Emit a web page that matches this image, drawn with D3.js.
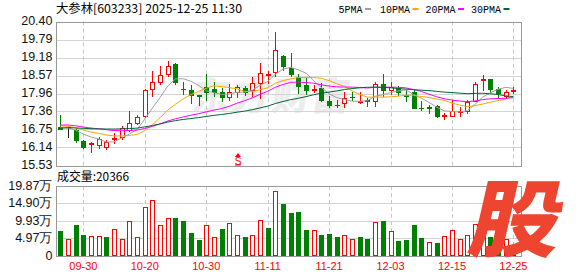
<!DOCTYPE html>
<html><head><meta charset="utf-8">
<script src="https://cdn.jsdelivr.net/npm/d3@7"></script>
<style>
html,body{margin:0;padding:0;background:#fff;}
svg{display:block;}
</style></head>
<body>
<svg id="c" width="578" height="276"></svg>
<script>
// ---- data ----
const dates = ["09-25","09-26","09-29","09-30","10-09","10-10","10-13","10-14","10-15","10-16","10-17","10-20","10-21","10-22","10-23","10-24","10-27","10-28","10-29","10-30","10-31","11-03","11-04","11-05","11-06","11-07","11-10","11-11","11-12","11-13","11-14","11-17","11-18","11-19","11-20","11-21","11-24","11-25","11-26","11-27","11-28","12-01","12-02","12-03","12-04","12-05","12-08","12-09","12-10","12-11","12-12","12-15","12-16","12-17","12-18","12-19","12-22","12-23","12-24","12-25"];
const open  = [16.82,16.83,16.74,16.37,16.28,16.23,16.17,16.44,16.49,16.74,16.97,17.21,18.12,18.36,18.63,18.96,18.13,18.09,17.90,18.18,18.12,18.03,17.84,18.00,18.15,18.07,18.32,18.62,18.68,19.24,18.82,18.52,18.26,18.12,18.15,17.72,17.59,17.64,17.85,17.71,17.74,17.70,18.29,18.07,18.15,17.91,18.03,17.48,17.50,17.55,17.23,17.22,17.36,17.38,17.72,18.44,18.45,18.12,17.89,18.07];
const high  = [17.25,16.87,16.80,16.38,16.34,16.51,16.40,16.63,16.87,17.39,17.25,18.12,18.71,18.90,19.05,18.99,18.37,18.26,17.92,18.63,18.37,18.15,18.29,18.26,18.23,18.52,19.00,18.71,20.03,19.28,19.33,18.63,18.52,18.26,18.32,17.89,17.75,18.00,18.03,18.00,17.81,18.37,18.63,18.37,18.23,18.07,18.09,17.70,17.58,17.58,17.32,17.75,17.51,17.75,18.34,18.60,18.45,18.20,18.09,18.17];
const low   = [16.77,16.48,16.34,16.12,15.99,16.12,16.09,16.29,16.44,16.68,16.94,17.17,17.89,18.28,18.54,18.29,17.96,17.66,17.58,17.75,17.87,17.70,17.73,17.84,17.92,17.87,17.81,18.32,18.54,18.77,18.54,17.98,17.96,18.00,17.70,17.51,17.51,17.51,17.75,17.66,17.55,17.55,17.89,17.96,17.92,17.70,17.47,17.42,17.32,17.17,17.11,17.19,17.21,17.30,17.70,18.07,18.03,17.83,17.81,17.98];
const close = [16.78,16.83,16.40,16.16,16.30,16.43,16.31,16.47,16.80,16.97,17.17,18.09,18.35,18.59,18.90,18.37,18.11,17.93,17.89,18.00,18.01,17.84,18.00,18.18,18.03,18.32,18.66,18.64,19.44,18.88,18.63,18.23,18.09,18.13,17.75,17.58,17.56,17.81,17.83,17.72,17.70,18.29,18.07,18.20,18.00,17.89,17.49,17.46,17.48,17.21,17.25,17.38,17.39,17.68,18.29,18.46,18.11,17.98,18.03,18.10];
// volume in 万 (10k shares)
const volume = [7.05,4.67,8.77,5.80,5.45,5.45,5.16,7.54,4.67,9.83,5.25,13.76,15.85,8.69,10.60,10.77,9.83,6.48,4.39,8.69,5.25,7.54,9.17,6.00,5.16,5.73,10.03,7.83,18.35,14.71,12.20,12.40,7.25,7.16,5.82,6.10,5.16,6.00,4.60,5.16,4.60,9.55,9.83,6.97,4.20,4.39,8.69,4.87,3.73,3.52,5.50,7.16,4.60,6.00,9.00,7.50,5.20,4.40,4.70,2.0366];
// closes of the 29 sessions before the first visible one (for the moving averages)
const priorClose = [16.55,16.48,16.62,16.70,16.58,16.45,16.52,16.60,16.66,16.71,16.85,16.92,17.05,16.98,16.88,16.95,17.02,16.90,16.86,16.89,16.95,16.98,16.90,16.92,16.90,16.86,16.78,16.83,16.80];
const priceTicks = [15.53,16.14,16.75,17.36,17.96,18.57,19.18,19.79,20.40];
const priceTickLabels = ["15.53","16.14","16.75","17.36","17.96","18.57","19.18","19.79","20.40"];
const volTicks = [0,4.97,9.93,14.90,19.87];
const volTickLabels = ["0","4.97万","9.93万","14.90万","19.87万"];
const xTickLabels = ["09-30","10-20","10-30","11-11","11-21","12-03","12-15","12-25"];
const maPeriods = [5,10,20,30];
const maNames = ["5PMA","10PMA","20PMA","30PMA"];
const maColors = ["#a0a0a0","#ffa500","#ff00ff","#006633"];
const title = "大参林[603233] 2025-12-25 11:30";
const volTitle = "成交量:20366";

// ---- layout ----
const svg = d3.select("#c");
const L = 56, R = 522;
const pTop = 21.5, pBot = 165.5;
const vTop = 186, vBot = 255.5;
const RED = "#ff0000", GREEN = "#008000";

const x = d3.scalePoint().domain(dates).range([60.3, 513.4]);
const y = d3.scaleLinear().domain([15.53, 20.40]).range([pBot, pTop]);
const yv = d3.scaleLinear().domain([0, 19.87]).range([vBot, vTop]);

const px = d => Math.round(x(d));

// watermark
svg.append("text").attr("x", 272).attr("y", 110).attr("text-anchor","middle")
  .attr("font-family","Noto Sans CJK SC").attr("font-weight",900).attr("font-size",38)
  .attr("fill","#000").attr("opacity",0.07).attr("letter-spacing",2)
  .attr("transform","skewX(-8)").attr("transform-origin","272 100")
  .text("东方财富");

// grids
function hgrid(ticks, sc) {
  svg.append("g").selectAll("line").data(ticks).join("line")
    .attr("x1", L).attr("x2", R)
    .attr("y1", d => Math.round(sc(d)) + 0.5).attr("y2", d => Math.round(sc(d)) + 0.5)
    .attr("stroke", "#d4d4d4").attr("stroke-width", 1);
}
hgrid(priceTicks, y);
hgrid(volTicks, yv);
const vgx = xTickLabels.map(l => px(l) + 0.5);
[[pTop, pBot], [vTop, vBot]].forEach(([a, b]) => {
  svg.append("g").selectAll("line").data(vgx).join("line")
    .attr("x1", d => d).attr("x2", d => d).attr("y1", a).attr("y2", b)
    .attr("stroke", "#c8c8c8").attr("stroke-dasharray", "4,3");
});
// panel frames
svg.append("rect").attr("x", L + 0.5).attr("y", Math.round(pTop) + 0.5)
  .attr("width", R - L - 1).attr("height", Math.round(pBot) - Math.round(pTop))
  .attr("fill", "none").attr("stroke", "#999");
svg.append("rect").attr("x", L + 0.5).attr("y", Math.round(vTop) + 0.5)
  .attr("width", R - L - 1).attr("height", Math.round(vBot) - Math.round(vTop))
  .attr("fill", "none").attr("stroke", "#999");

// axis labels
svg.append("g").selectAll("text").data(priceTicks).join("text")
  .attr("x", 52.5).attr("y", d => y(d) + 3.5).attr("text-anchor", "end")
  .attr("font-family", "Liberation Sans, Arial").attr("font-size", 12.5).attr("fill", "#111")
  .text((d, i) => priceTickLabels[i]);
svg.append("g").selectAll("text").data(volTicks).join("text")
  .attr("x", 52.5).attr("y", d => yv(d) + 4).attr("text-anchor", "end")
  .attr("font-family", "Liberation Sans, Arial").attr("font-size", 12.5).attr("fill", "#111")
  .text((d, i) => volTickLabels[i]);
svg.append("g").selectAll("text").data(xTickLabels).join("text")
  .attr("x", d => x(d)).attr("y", 270).attr("text-anchor", "middle")
  .attr("font-family", "Liberation Sans, Arial").attr("font-size", 11).attr("fill", RED)
  .text(d => d);

// titles
svg.append("text").attr("x", 56).attr("y", 13).attr("font-family", "Noto Sans CJK SC")
  .attr("font-size", 12).attr("fill", "#000").attr("textLength", 186).attr("lengthAdjust","spacingAndGlyphs").text(title);
svg.append("text").attr("x", 57).attr("y", 181).attr("font-family", "Noto Sans CJK SC")
  .attr("font-size", 12).attr("fill", "#000").attr("textLength", 72).attr("lengthAdjust","spacingAndGlyphs").text(volTitle);

// legend
const legX = [338.5, 380, 425.5, 471];
const legW = [24, 30, 30, 30];
maNames.forEach((n, i) => {
  svg.append("text").attr("x", legX[i]).attr("y", 12.5)
    .attr("font-family", "Liberation Mono, monospace").attr("font-size", 11)
    .attr("textLength", legW[i]).attr("lengthAdjust","spacingAndGlyphs")
    .attr("fill", "#000").text(n);
  svg.append("rect").attr("x", legX[i] + legW[i] + 2.5).attr("y", 8)
    .attr("width", 6).attr("height", 2).attr("fill", maColors[i]);
});

// candles
const data = dates.map((d, i) => ({d, o: open[i], h: high[i], l: low[i], c: close[i], v: volume[i],
  prev: i === 0 ? priorClose[priorClose.length - 1] : close[i - 1]}));
const cg = svg.append("g");
data.forEach(k => {
  const cx = px(k.d);
  const col = k.c > k.o ? RED : (k.c < k.o ? GREEN : "#222");
  const top = Math.round(y(Math.max(k.o, k.c))), bot = Math.round(y(Math.min(k.o, k.c)));
  cg.append("line").attr("x1", cx + 0.5).attr("x2", cx + 0.5)
    .attr("y1", Math.round(y(k.h))).attr("y2", Math.round(y(k.l)) + 1).attr("stroke", col);
  if (k.c > k.o) {
    cg.append("rect").attr("x", cx - 1.5).attr("y", top + 0.5).attr("width", 4)
      .attr("height", Math.max(1, bot - top)).attr("fill", "#fff").attr("stroke", col);
  } else if (k.c < k.o) {
    cg.append("rect").attr("x", cx - 2).attr("y", top).attr("width", 5)
      .attr("height", Math.max(1, bot - top + 1)).attr("fill", col);
  } else {
    cg.append("line").attr("x1", cx - 2).attr("x2", cx + 3).attr("y1", top + 0.5).attr("y2", top + 0.5).attr("stroke", col);
  }
});

// moving averages
const all = priorClose.concat(close);
const P = priorClose.length;
const lineGen = d3.line().x(p => x(p[0])).y(p => y(p[1]));
maPeriods.forEach((n, mi) => {
  const pts = dates.map((d, i) => [d, d3.mean(all.slice(P + i - n + 1, P + i + 1))]);
  svg.append("path").attr("d", lineGen(pts)).attr("fill", "none")
    .attr("stroke", maColors[mi]).attr("stroke-width", 1);
});

// volume bars
const vg = svg.append("g");
data.forEach(k => {
  const cx = px(k.d);
  const up = k.c >= k.prev;
  const t = Math.round(yv(k.v));
  if (up) {
    vg.append("rect").attr("x", cx - 1.5).attr("y", t + 0.5).attr("width", 4)
      .attr("height", Math.round(vBot) - t - 1).attr("fill", "#fff").attr("stroke", RED);
  } else {
    vg.append("rect").attr("x", cx - 2).attr("y", t).attr("width", 5)
      .attr("height", Math.round(vBot) - t).attr("fill", GREEN);
  }
});

// S marker
const sx = px("11-05") + 1;
svg.append("path").attr("d", `M${sx - 3},157 L${sx},153 L${sx + 3},157 Z`).attr("fill", RED);
svg.append("text").attr("x", sx).attr("y", 164.5).attr("text-anchor", "middle")
  .attr("font-family", "Liberation Sans").attr("font-size", 10).attr("fill", RED).text("S");
svg.append("line").attr("x1", sx - 3).attr("x2", sx + 3).attr("y1", 165).attr("y2", 165).attr("stroke", RED);

// brand mark
svg.append("text").attr("x", 511).attr("y", 250).attr("text-anchor", "middle")
  .attr("font-family", "Noto Sans CJK SC").attr("font-weight", 900).attr("font-size", 84)
  .attr("fill", "#ee4530").attr("transform", "translate(511,250) scale(1.08,1) skewX(-12) translate(-511,-250)")
  .text("股");
</script>
</body></html>
